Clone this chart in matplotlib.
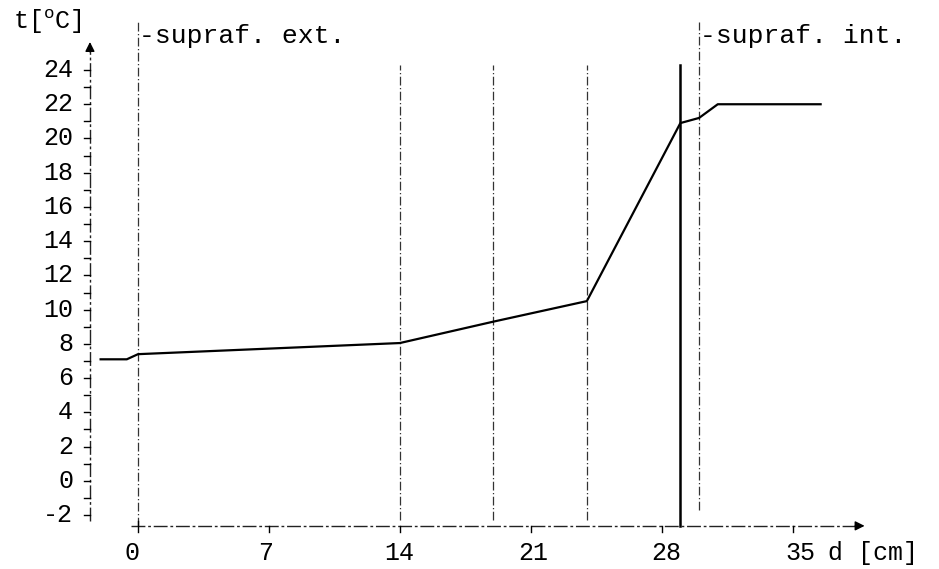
import matplotlib
matplotlib.use("Agg")
import matplotlib.pyplot as plt

# ---- data ----
d_profile = [-2.0, -0.6, 0.0, 14.0, 19.0, 24.0, 29.0, 30.0, 31.0, 36.5]
t_profile = [7.1, 7.1, 7.4, 8.05, 9.3, 10.5, 20.9, 21.2, 22.0, 22.0]
layer_bounds = [0, 14, 19, 24, 30]
solid_bound = [29]
x_ticks = [0, 7, 14, 21, 28, 35]
x_tick_labels = ["0", "7", "14", "21", "28", "35"]
y_ticks = list(range(-2, 25, 2))
y_tick_labels = [str(v) for v in y_ticks]
surface_labels = ["-supraf. ext.", "-supraf. int."]
surface_pos = [0, 30]

plt.rcParams['font.family'] = ['Liberation Mono', 'DejaVu Sans Mono']
plt.rcParams['mathtext.fontset'] = 'custom'
plt.rcParams['mathtext.rm'] = 'Liberation Mono'

fig = plt.figure(figsize=(9.39, 5.69), dpi=100)
ax = fig.add_axes([0, 0, 1, 1])
ax.set_xlim(-7.38, 42.83)
ax.set_ylim(-5.15, 28.09)
ax.axis('off')

dash = (0, (7, 2, 1, 2))
# vertical boundaries
for b in layer_bounds:
    if b in surface_pos:
        top = 26.8
        bot = -2.63 if b == 0 else -1.7
    else:
        top, bot = 24.3, -2.3
    ax.plot([b, b], [bot, top], color='#333333', lw=0.9, ls=dash)
for b in solid_bound:
    ax.plot([b, b], [-2.63, 24.3], color='black', lw=1.8)

# surface labels
for lab, p in zip(surface_labels, surface_pos):
    ax.text(p + 0.05, 26.0, lab, fontsize=19, ha='left', va='center')

# axes
ax_x0 = -2.57
ax_y0 = -2.63
ax.plot([ax_x0, ax_x0], [-2.35, 25.2], color='#222222', lw=1.0, ls=(0, (10, 2, 2, 2)))
ax.annotate('', xy=(ax_x0, 25.8), xytext=(ax_x0, 24.9),
            arrowprops=dict(arrowstyle='-|>', color='black', lw=1, mutation_scale=14))
ax.plot([-0.4, 38.6], [ax_y0, ax_y0], color='#222222', lw=1.0, ls=(0, (10, 2, 2, 2)))
ax.annotate('', xy=(39.0, ax_y0), xytext=(38.2, ax_y0),
            arrowprops=dict(arrowstyle='-|>', color='black', lw=1, mutation_scale=14))

# y ticks
for v in range(-2, 25):
    ax.plot([ax_x0 - 0.3, ax_x0], [v, v], color='black', lw=1.0)
for v, lab in zip(y_ticks, y_tick_labels):
    ax.text(ax_x0 - 0.9, v, lab, fontsize=18, ha='right', va='center')
ax.text(-6.7, 26.8, r"t[$^\mathrm{o}$C]", fontsize=18, ha='left', va='center')

# x ticks
for v, lab in zip(x_ticks, x_tick_labels):
    ax.plot([v, v], [ax_y0 - 0.35, ax_y0 + (0.3 if v == 0 else 0)], color='black', lw=1.0)
    ax.text(v - 0.3 + 0.02 * v, -4.2, lab, fontsize=18, ha='center', va='center')
ax.text(36.9, -4.2, "d [cm]", fontsize=18, ha='left', va='center')

# temperature profile
ax.plot(d_profile, t_profile, color='black', lw=1.6)

fig.savefig("out.png", dpi=100)
